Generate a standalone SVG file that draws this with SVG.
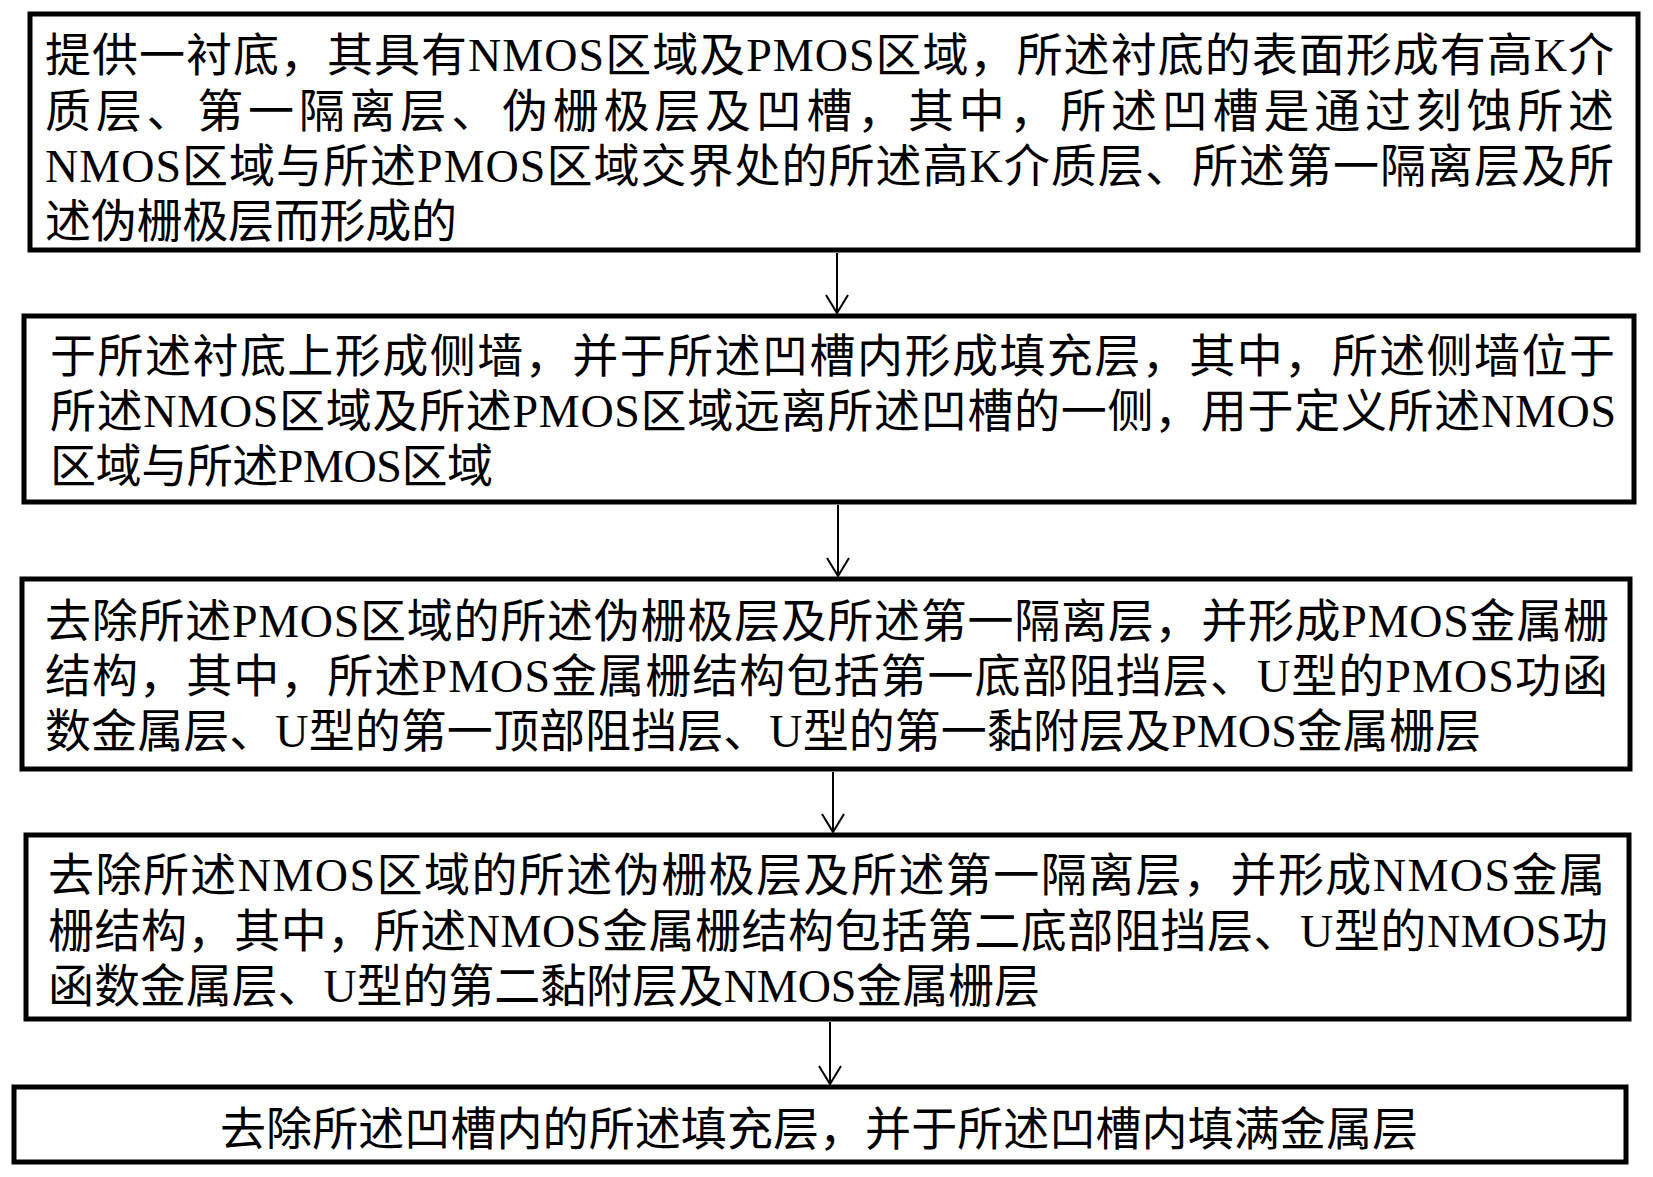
<svg xmlns="http://www.w3.org/2000/svg" width="1653" height="1177" viewBox="0 0 1653 1177">
<style>
.box{fill:#fff;stroke:#000;stroke-width:5}
.t{font-family:"Liberation Serif","Noto Sans CJK SC",serif;font-size:46px;fill:#000}
.c{stroke:#000;stroke-width:2;fill:none}
</style>
<defs>
<marker id="ah" markerUnits="userSpaceOnUse" viewBox="-20 -13 22 26" markerWidth="22" markerHeight="26" refX="0" refY="0" orient="auto" overflow="visible">
<path d="M-18,-11 L0,0 L-18,11" fill="none" stroke="#000" stroke-width="2"/>
</marker>
</defs>
<rect width="1653" height="1177" fill="#fff"/>
<g id="node1">
<rect class="box" x="30" y="14" width="1608" height="236"/>
<text class="t" x="45" y="71" textLength="1569" lengthAdjust="spacing">提供一衬底，其具有NMOS区域及PMOS区域，所述衬底的表面形成有高K介</text>
<text class="t" x="45" y="127" textLength="1569" lengthAdjust="spacing">质层、第一隔离层、伪栅极层及凹槽，其中，所述凹槽是通过刻蚀所述</text>
<text class="t" x="45" y="182" textLength="1569" lengthAdjust="spacing">NMOS区域与所述PMOS区域交界处的所述高K介质层、所述第一隔离层及所</text>
<text class="t" x="45" y="237" textLength="412" lengthAdjust="spacing">述伪栅极层而形成的</text>
</g>
<g id="node2">
<rect class="box" x="24" y="316" width="1610" height="186"/>
<text class="t" x="50" y="372" textLength="1565" lengthAdjust="spacing">于所述衬底上形成侧墙，并于所述凹槽内形成填充层，其中，所述侧墙位于</text>
<text class="t" x="50" y="427" textLength="1566" lengthAdjust="spacing">所述NMOS区域及所述PMOS区域远离所述凹槽的一侧，用于定义所述NMOS</text>
<text class="t" x="50" y="482" textLength="443" lengthAdjust="spacing">区域与所述PMOS区域</text>
</g>
<g id="node3">
<rect class="box" x="22" y="579" width="1608" height="190"/>
<text class="t" x="45" y="637" textLength="1564" lengthAdjust="spacing">去除所述PMOS区域的所述伪栅极层及所述第一隔离层，并形成PMOS金属栅</text>
<text class="t" x="45" y="692" textLength="1563" lengthAdjust="spacing">结构，其中，所述PMOS金属栅结构包括第一底部阻挡层、U型的PMOS功函</text>
<text class="t" x="45" y="747" textLength="1436" lengthAdjust="spacing">数金属层、U型的第一顶部阻挡层、U型的第一黏附层及PMOS金属栅层</text>
</g>
<g id="node4">
<rect class="box" x="26" y="835" width="1603" height="184"/>
<text class="t" x="48" y="891" textLength="1557" lengthAdjust="spacing">去除所述NMOS区域的所述伪栅极层及所述第一隔离层，并形成NMOS金属</text>
<text class="t" x="48" y="947" textLength="1560" lengthAdjust="spacing">栅结构，其中，所述NMOS金属栅结构包括第二底部阻挡层、U型的NMOS功</text>
<text class="t" x="48" y="1002" textLength="992" lengthAdjust="spacing">函数金属层、U型的第二黏附层及NMOS金属栅层</text>
</g>
<g id="node5">
<rect class="box" x="14" y="1087" width="1612" height="75"/>
<text class="t" x="819" y="1145" text-anchor="middle" textLength="1198" lengthAdjust="spacing">去除所述凹槽内的所述填充层，并于所述凹槽内填满金属层</text>
</g>
<g id="connectors">
<line class="c" x1="837" y1="253" x2="837" y2="313" marker-end="url(#ah)"/>
<line class="c" x1="838" y1="505" x2="838" y2="576" marker-end="url(#ah)"/>
<line class="c" x1="833" y1="772" x2="833" y2="832" marker-end="url(#ah)"/>
<line class="c" x1="830" y1="1022" x2="830" y2="1084" marker-end="url(#ah)"/>
</g>
</svg>
